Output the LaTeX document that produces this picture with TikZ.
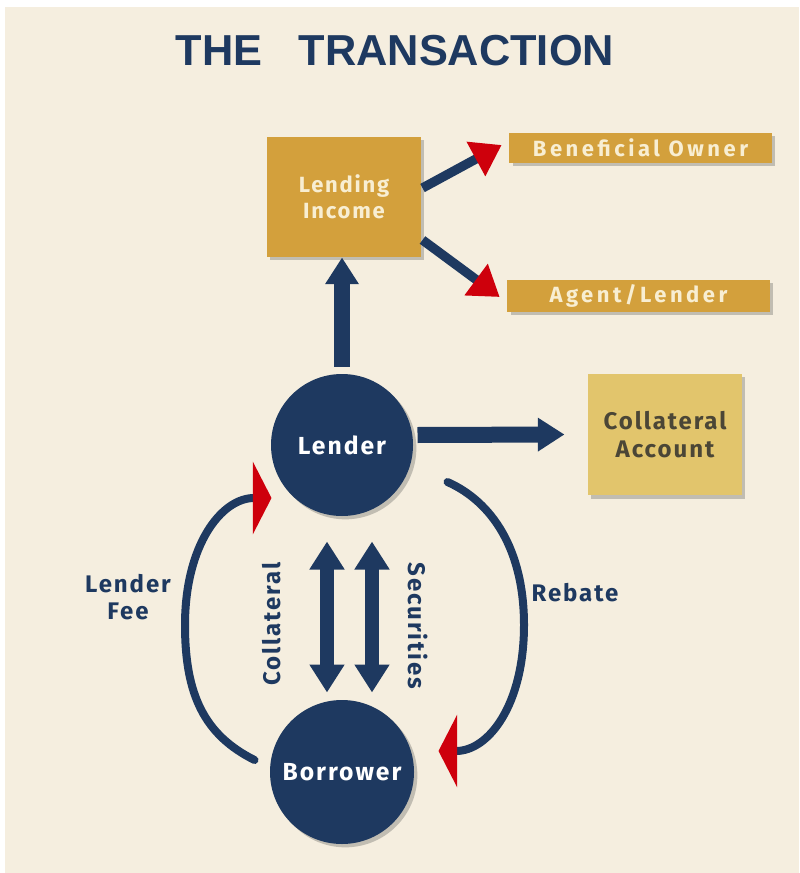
\documentclass[tikz,border=0pt]{standalone}
\usepackage{fontspec}
\setmainfont{Fira Sans}
\newfontfamily\lblfont[LetterSpace=8]{Fira Sans}
\newfontfamily\widefont[LetterSpace=16]{Fira Sans}
\newfontfamily\titlefont{Liberation Sans}
\usetikzlibrary{arrows.meta,calc,shadows}

\definecolor{paper}{RGB}{245,238,223}
\definecolor{navy}{RGB}{30,57,96}
\definecolor{gold}{RGB}{211,160,60}
\definecolor{lightgold}{RGB}{226,197,108}
\definecolor{cream}{RGB}{248,238,210}
\definecolor{darktext}{RGB}{75,70,54}
\definecolor{tipred}{RGB}{206,0,12}

\tikzset{every picture/.style={line width=0.75pt}}
\tikzset{
  softshadow/.style={drop shadow={shadow xshift=2.5pt,shadow yshift=-2.5pt,opacity=0.3,fill=black!70}},
  goldbox/.style={rectangle,fill=gold,softshadow,inner sep=0pt,align=center,text=cream,font=\lblfont\bfseries\fontsize{16.5}{19.5}\selectfont},
  stripbox/.style={goldbox,minimum width=197pt,font=\widefont\bfseries\fontsize{16.5}{19}\selectfont},
  partycircle/.style={circle,fill=navy,softshadow,inner sep=0pt,text=white,font=\lblfont\bfseries\fontsize{18.5}{22}\selectfont},
  flowlabel/.style={text=navy,align=center,inner sep=0pt,font=\lblfont\bfseries\fontsize{18}{20}\selectfont},
  navyarrow/.style={draw=navy,line width=12pt,-{Triangle[length=20pt,width=24pt,color=navy]}},
  redarrow/.style={draw=navy,line width=7pt,-{Triangle[length=22pt,width=28pt,color=tipred]}},
  swaparrow/.style={draw=navy,line width=10.5pt,{Triangle[length=21pt,width=25pt,color=navy]}-{Triangle[length=21pt,width=25pt,color=navy]}},
  looparrow/.style={draw=navy,line width=6pt,line cap=round,-{Triangle[length=14pt,width=54pt,color=tipred]}}
}

\begin{document}
\begin{tikzpicture}[x=0.75pt,y=0.75pt,yscale=-1,xscale=1]
\useasboundingbox (0,0) rectangle (799,873);
% background sheet
\fill[paper] (5,7) rectangle (799,873);

% Text Node: title
\node (title) at (395,51) [text=navy,inner sep=0pt,font=\titlefont\bfseries\fontsize{32.5}{36}\selectfont] {THE\ \ \ TRANSACTION};

% Boxes
\node (income) at (344,197) [goldbox,minimum width=115.5pt,minimum height=90pt] {Lending\\Income};
\node (owner) at (640.5,148) [stripbox,minimum height=22.5pt] {Beneficial Owner};
\node (agent) at (638.5,296) [stripbox,minimum height=24pt] {Agent/Lender};
\node (collat) at (665,434.5) [goldbox,fill=lightgold,text=darktext,minimum width=115.5pt,minimum height=91pt,font=\lblfont\bfseries\fontsize{18}{21}\selectfont] {Collateral\\Account};

% Parties
\node (lender) at (342,445) [partycircle,minimum size=106.5pt] {Lender};
\node (borrower) at (342,772) [partycircle,minimum size=108pt] {Borrower};

% Income split
\draw [redarrow] ($(income.east)+(1,-9)$) -- ($(owner.west)+(-7,-3)$);
\draw [redarrow] ($(income.east)+(1,43)$) -- ($(agent.west)+(-7,1)$);

% Lender outputs
\draw [navyarrow] ($(lender.north)+(0,-7)$) -- (lender.north |- income.south);
\draw [navyarrow] ($(lender.east)+(4,-10)$) -- ($(collat.west)+(-23,0)$);

% Exchange between the parties
\draw [swaparrow] ($(lender.south)+(-15,25)$) -- ($(borrower.north)+(-15,-7)$);
\draw [swaparrow] ($(lender.south)+(30,25)$) -- ($(borrower.north)+(30,-7)$);

% Fee and rebate loops
\draw [looparrow] ($(borrower.west)+(-15,-12)$) .. controls +(-50,-25) and +(0,70) .. (185,625) .. controls +(0,-80) and +(-50,0) .. ($(lender.west)+(1,53)$);
\draw [looparrow] ($(lender.east)+(34,37)$) .. controls +(45,20) and +(0,-75) .. (524,625) .. controls +(0,80) and +(50,0) .. ($(borrower.east)+(24,-21)$);

% Text Node
\node (fee) at (128,597) [flowlabel] {Lender\\Fee};
% Text Node
\node (rebate) at (575,593) [flowlabel] {Rebate};
% Text Node
\node (collabel) at (272,624) [flowlabel,rotate=90] {Collateral};
% Text Node
\node (seclabel) at (418,626) [flowlabel,rotate=-90] {Securities};

\end{tikzpicture}
\end{document}
